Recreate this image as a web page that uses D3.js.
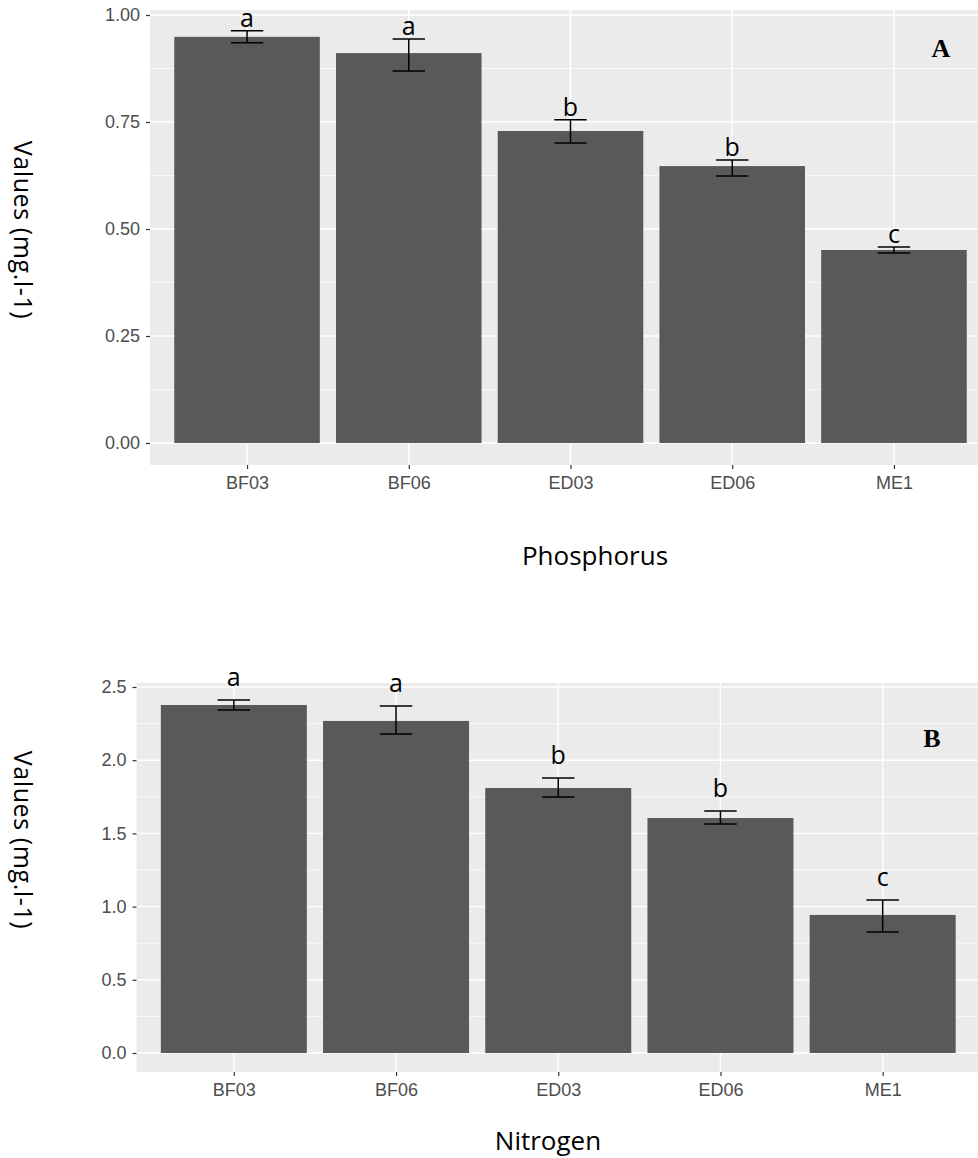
<!DOCTYPE html>
<html>
<head>
<meta charset="utf-8">
<script src="https://cdn.jsdelivr.net/npm/d3@7"></script>
<style>
  body { margin: 0; background: #fff; }
  svg { display: block; }
</style>
</head>
<body>
<script>
// ---- data ----
var categories = ["BF03", "BF06", "ED03", "ED06", "ME1"];

var phosphorusMean = [0.949, 0.911, 0.729, 0.647, 0.451];
var phosphorusLow = [0.935, 0.869, 0.701, 0.624, 0.444];
var phosphorusHigh = [0.963, 0.944, 0.755, 0.661, 0.458];
var phosphorusLetters = ["a", "a", "b", "b", "c"];
var phosphorusTicks = [0, 0.25, 0.5, 0.75, 1.0];

var nitrogenMean = [2.377, 2.268, 1.81, 1.605, 0.943];
var nitrogenLow = [2.343, 2.179, 1.749, 1.564, 0.826];
var nitrogenHigh = [2.411, 2.370, 1.878, 1.653, 1.045];
var nitrogenLetters = ["a", "a", "b", "b", "c"];
var nitrogenTicks = [0, 0.5, 1.0, 1.5, 2.0, 2.5];

var W = 978, H = 1158;
var svg = d3.select("body").append("svg")
  .attr("width", W)
  .attr("height", H);

var drawPanel = function(p) {
  var x = d3.scaleLinear().domain([0.4, 5.6]).range([p.left, p.right]);
  var y = d3.scaleLinear().domain(p.ydomain).range([p.bottom, p.top]);
  var step = x(2) - x(1);
  var g = svg.append("g");

  // panel background
  g.append("rect")
    .attr("x", p.left).attr("y", p.top)
    .attr("width", p.right - p.left).attr("height", p.bottom - p.top)
    .attr("fill", "#ebebeb");

  // minor grid
  var minor = [];
  for (var i = 0; i < p.ticks.length - 1; i++) {
    minor.push((p.ticks[i] + p.ticks[i + 1]) / 2);
  }
  g.selectAll(".minor").data(minor).enter().append("line")
    .attr("x1", p.left).attr("x2", p.right)
    .attr("y1", function(d) { return y(d); })
    .attr("y2", function(d) { return y(d); })
    .attr("stroke", "#fff").attr("stroke-width", 0.7);

  // major grid
  g.selectAll(".hmajor").data(p.ticks).enter().append("line")
    .attr("x1", p.left).attr("x2", p.right)
    .attr("y1", function(d) { return y(d); })
    .attr("y2", function(d) { return y(d); })
    .attr("stroke", "#fff").attr("stroke-width", 1.4);
  g.selectAll(".vmajor").data(categories).enter().append("line")
    .attr("x1", function(d, i) { return x(i + 1); })
    .attr("x2", function(d, i) { return x(i + 1); })
    .attr("y1", p.top).attr("y2", p.bottom)
    .attr("stroke", "#fff").attr("stroke-width", 1.4);

  // bars
  g.selectAll(".bar").data(p.mean).enter().append("rect")
    .attr("x", function(d, i) { return x(i + 1) - step * 0.45; })
    .attr("width", step * 0.9)
    .attr("y", function(d) { return y(d); })
    .attr("height", function(d) { return y(0) - y(d); })
    .attr("fill", "#595959");

  // error bars
  var eb = g.selectAll(".err").data(p.mean).enter().append("g")
    .attr("stroke", "#000").attr("stroke-width", 1.5);
  eb.append("line")
    .attr("x1", function(d, i) { return x(i + 1); })
    .attr("x2", function(d, i) { return x(i + 1); })
    .attr("y1", function(d, i) { return y(p.low[i]); })
    .attr("y2", function(d, i) { return y(p.high[i]); });
  eb.append("line")
    .attr("x1", function(d, i) { return x(i + 1) - step * 0.1; })
    .attr("x2", function(d, i) { return x(i + 1) + step * 0.1; })
    .attr("y1", function(d, i) { return y(p.low[i]); })
    .attr("y2", function(d, i) { return y(p.low[i]); });
  eb.append("line")
    .attr("x1", function(d, i) { return x(i + 1) - step * 0.1; })
    .attr("x2", function(d, i) { return x(i + 1) + step * 0.1; })
    .attr("y1", function(d, i) { return y(p.high[i]); })
    .attr("y2", function(d, i) { return y(p.high[i]); });

  // significance letters
  g.selectAll(".letter").data(p.letters).enter().append("text")
    .attr("x", function(d, i) { return x(i + 1); })
    .attr("y", function(d, i) { return y(p.high[i]) - p.letterGap; })
    .attr("text-anchor", "middle")
    .attr("font-family", "Open Sans, sans-serif")
    .attr("font-size", 25)
    .attr("fill", "#000")
    .text(function(d) { return d; });

  // axes
  var yAxis = d3.axisLeft(y).tickValues(p.ticks).tickSize(4).tickPadding(6)
    .tickFormat(d3.format(p.fmt));
  var ya = g.append("g").attr("transform", "translate(" + p.left + ",0)").call(yAxis);
  var xAxis = d3.axisBottom(x).tickValues([1, 2, 3, 4, 5]).tickSize(4).tickPadding(7)
    .tickFormat(function(d) { return categories[d - 1]; });
  var xa = g.append("g").attr("transform", "translate(0," + p.bottom + ")").call(xAxis);
  [ya, xa].forEach(function(a) {
    a.select(".domain").remove();
    a.selectAll(".tick line").attr("stroke", "#333").attr("stroke-width", 1.2);
    a.selectAll(".tick text")
      .attr("fill", "#4d4d4d")
      .attr("font-family", "Liberation Sans, Arial, sans-serif")
      .attr("font-size", 18);
  });

  // titles
  svg.append("text")
    .attr("transform", "translate(" + p.ytitleX + "," + p.ytitleY + ") rotate(90)")
    .attr("text-anchor", "middle")
    .attr("font-family", "Open Sans, sans-serif")
    .attr("font-size", 25)
    .attr("letter-spacing", 0.6)
    .attr("fill", "#000")
    .text("Values (mg.l-1)");
  svg.append("text")
    .attr("x", p.xtitleX).attr("y", p.xtitleY)
    .attr("text-anchor", "middle")
    .attr("font-family", "Open Sans, sans-serif")
    .attr("font-size", 26)
    .attr("fill", "#000")
    .text(p.xtitle);
  svg.append("text")
    .attr("x", p.tagX).attr("y", p.tagY)
    .attr("text-anchor", "middle")
    .attr("font-family", "Liberation Serif, Times New Roman, serif")
    .attr("font-weight", "bold")
    .attr("font-size", 26)
    .attr("fill", "#000")
    .text(p.tag);
};

drawPanel({
  left: 150, right: 991, top: 10, bottom: 465,
  ydomain: [-0.0514, 1.0117],
  ticks: phosphorusTicks, fmt: ".2f",
  mean: phosphorusMean, low: phosphorusLow, high: phosphorusHigh,
  letters: phosphorusLetters, letterGap: 4,
  xtitle: "Phosphorus", xtitleX: 595, xtitleY: 565,
  ytitleX: 14, ytitleY: 230,
  tag: "A", tagX: 941, tagY: 57
});

drawPanel({
  left: 136.5, right: 980, top: 683, bottom: 1072,
  ydomain: [-0.1298, 2.5273],
  ticks: nitrogenTicks, fmt: ".1f",
  mean: nitrogenMean, low: nitrogenLow, high: nitrogenHigh,
  letters: nitrogenLetters, letterGap: 14,
  xtitle: "Nitrogen", xtitleX: 548, xtitleY: 1150,
  ytitleX: 14, ytitleY: 840,
  tag: "B", tagX: 932, tagY: 747
});
</script>
</body>
</html>
